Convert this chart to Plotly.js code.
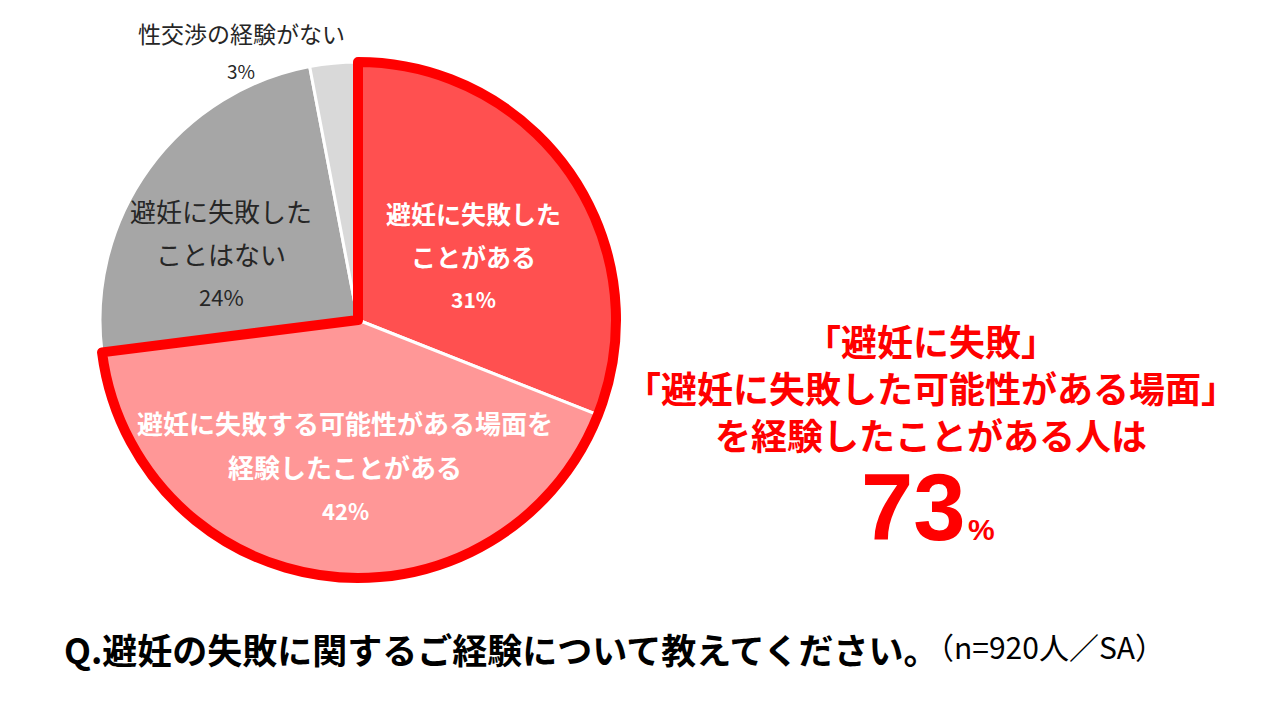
<!DOCTYPE html>
<html>
<head>
<meta charset="utf-8">
<script src="https://cdn.plot.ly/plotly-3.0.1.min.js"></script>
<style>
  html, body { margin: 0; padding: 0; background: #fff; }
  #graph { width: 1280px; height: 709px; }
</style>
</head>
<body>
<div id="graph"></div>
<script>
// 避妊の失敗に関するご経験 (n=920)
const labels = [
    '避妊に失敗したことがある',
    '避妊に失敗する可能性がある場面を経験したことがある',
    '避妊に失敗したことはない',
    '性交渉の経験がない'
];
// label text split into lines, as on the slide
const labelLines = [
    ['避妊に失敗した', 'ことがある'],
    ['避妊に失敗する可能性がある場面を', '経験したことがある'],
    ['避妊に失敗した', 'ことはない'],
    ['性交渉の経験がない']
];
const values = [31, 42, 24, 3];
const colors = ['#FF5050', '#FF9797', '#A6A6A6', '#D9D9D9'];

// the first two answers are the "experienced" group
const groupValues = [values[0] + values[1], values[2] + values[3]];

const headline = ['「避妊に失敗」', '「避妊に失敗した可能性がある場面」', 'を経験したことがある人は'];
const question = 'Q.避妊の失敗に関するご経験について教えてください。';
const note = '（n=920人／SA）';

const RED = '#FF0000';
const JP = '"Noto Sans CJK JP", "Noto Sans", sans-serif';

const W = 1280, H = 709;
function px(x) { return x / W; }
function py(y) { return 1 - y / H; }

const pieDomain = {x: [px(100), px(616)], y: [py(578), py(62)]};

var slices = {
    type: 'pie',
    labels: labels,
    values: values,
    sort: false,
    direction: 'clockwise',
    rotation: 0,
    textinfo: 'none',
    hoverinfo: 'label+percent',
    marker: {colors: colors, line: {color: '#FFFFFF', width: 3}},
    domain: pieDomain,
    showlegend: false
};

// thick red border round the two "experienced" slices
var outline = {
    type: 'pie',
    labels: ['経験あり', 'その他'],
    values: groupValues,
    sort: false,
    direction: 'clockwise',
    rotation: 0,
    textinfo: 'none',
    hoverinfo: 'skip',
    marker: {
        colors: ['rgba(0,0,0,0)', 'rgba(0,0,0,0)'],
        line: {color: [RED, 'rgba(0,0,0,0)'], width: [10, 0]}
    },
    domain: pieDomain,
    showlegend: false
};

// slice label positions (px) and styles
const labelPos = [[473, 213], [345, 422], [221, 210], [241, 33]];
const labelStyle = [
    {color: '#FFFFFF', bold: true, size: 25},
    {color: '#FFFFFF', bold: true, size: 26},
    {color: '#262626', bold: false, size: 26},
    {color: '#262626', bold: false, size: 23}
];
const lineGap = [43, 44, 43, 38];

var annotations = [];

labelLines.forEach(function(lines, i) {
    var rows = lines.concat([values[i] + '%']);
    rows.forEach(function(t, j) {
        var st = labelStyle[i];
        annotations.push({
            xref: 'paper', yref: 'paper',
            x: px(labelPos[i][0]), y: py(labelPos[i][1] + j * lineGap[i]),
            text: st.bold ? '<b>' + t + '</b>' : t,
            showarrow: false,
            xanchor: 'center', yanchor: 'middle',
            font: {family: JP, size: (j === lines.length) ? st.size - 4 : st.size, color: st.color}
        });
    });
});

annotations.push({
    xref: 'paper', yref: 'paper',
    x: px(931), y: py(387),
    text: '<b>' + headline.join('<br>') + '</b>',
    showarrow: false,
    align: 'center',
    xanchor: 'center', yanchor: 'middle',
    font: {family: JP, size: 36, color: RED}
});

annotations.push({
    xref: 'paper', yref: 'paper',
    x: px(968), y: py(562),
    text: '<b>' + groupValues[0] + '</b>',
    showarrow: false,
    xanchor: 'right', yanchor: 'bottom',
    font: {family: '"Liberation Sans", Arial, sans-serif', size: 94, color: RED}
});
annotations.push({
    xref: 'paper', yref: 'paper',
    x: px(966), y: py(548),
    text: '<b>%</b>',
    showarrow: false,
    xanchor: 'left', yanchor: 'bottom',
    font: {family: '"Liberation Sans", Arial, sans-serif', size: 30, color: RED}
});

annotations.push({
    xref: 'paper', yref: 'paper',
    x: px(62), y: py(648),
    text: '<b>' + question + '</b>',
    showarrow: false,
    xanchor: 'left', yanchor: 'middle',
    font: {family: JP, size: 35, color: '#000000'}
});
annotations.push({
    xref: 'paper', yref: 'paper',
    x: px(922), y: py(646),
    text: note,
    showarrow: false,
    xanchor: 'left', yanchor: 'middle',
    font: {family: JP, size: 30, color: '#000000'}
});

const layout = {
    width: W,
    height: H,
    margin: {l: 0, r: 0, t: 0, b: 0},
    paper_bgcolor: '#fff',
    plot_bgcolor: '#fff',
    showlegend: false,
    annotations: annotations
};

Plotly.newPlot('graph', [slices, outline], layout, {displayModeBar: false, staticPlot: true});
</script>
</body>
</html>
